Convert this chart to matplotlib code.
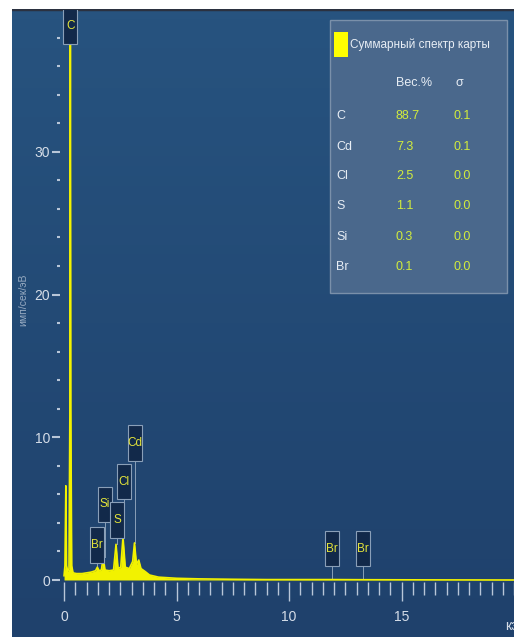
import matplotlib
matplotlib.use("Agg")
import matplotlib.pyplot as plt
import numpy as np
from matplotlib.patches import Rectangle
from matplotlib.colors import LinearSegmentedColormap

# ---------------- data ----------------
energy = [0.00, 0.04, 0.08, 0.11, 0.16, 0.22, 0.26, 0.28, 0.30, 0.34, 0.40, 0.55,
          0.80, 1.00, 1.20, 1.40, 1.48, 1.56, 1.66, 1.74, 1.82, 2.00, 2.20, 2.31,
          2.40, 2.52, 2.62, 2.72, 2.90, 3.05, 3.13, 3.22, 3.32, 3.42, 3.60, 3.80,
          4.20, 5.00, 6.00, 7.50, 9.00, 11.92, 13.29, 16.00, 20.00]
counts = [0.3, 1.0, 6.6, 1.0, 0.6, 0.8, 12.0, 41.0, 12.0, 1.0, 0.5, 0.45,
          0.45, 0.5, 0.55, 0.65, 0.9, 0.65, 0.7, 1.6, 0.7, 0.65, 0.7, 2.5,
          0.8, 0.9, 3.0, 0.9, 0.8, 1.3, 2.6, 1.1, 1.4, 0.8, 0.6, 0.35,
          0.2, 0.12, 0.08, 0.05, 0.03, 0.03, 0.02, 0.01, 0.0]

peak_names = ["C", "Br", "Si", "S", "Cl", "Cd", "Br", "Br"]
peak_energy = [0.28, 1.48, 1.80, 2.37, 2.67, 3.17, 11.92, 13.29]
label_y = [38.8, 2.45, 5.3, 4.2, 6.9, 9.6, 2.2, 2.2]
peak_top = [41.0, 0.9, 1.6, 2.5, 3.0, 2.6, 0.05, 0.05]

elements = ["C", "Cd", "Cl", "S", "Si", "Br"]
wt_pct = ["88.7", "7.3", "2.5", "1.1", "0.3", "0.1"]
sigma = ["0.1", "0.1", "0.0", "0.0", "0.0", "0.0"]

# ---------------- styling ----------------
W, H = 514, 637
YEL = "#f2f200"
TICK = "#b8c6d8"
TXT = "#d5dde8"
FONT = ["Liberation Sans", "DejaVu Sans"]

fig = plt.figure(figsize=(W / 100, H / 100), dpi=100)
fig.patch.set_facecolor("white")

def fx(px):
    return px / W

def fy(py):
    return 1 - py / H

# gradient background panel
bg = fig.add_axes([fx(12), 0, 1 - fx(12), fy(9)])
bg.set_zorder(-10)
bg.axis("off")
cmap = LinearSegmentedColormap.from_list("bg", ["#1f416c", "#27537f"])
bg.imshow(np.linspace(0, 1, 64).reshape(-1, 1), cmap=cmap, aspect="auto",
          origin="lower", extent=[0, 1, 0, 1])
bg.set_xlim(0, 1)
bg.set_ylim(0, 1)
bg.axhline(1, color="#2b3140", linewidth=2.5)

ax = fig.add_axes([fx(60), fy(582), fx(514) - fx(60), fy(10) - fy(582)])
ax.set_zorder(1)
ax.set_facecolor("none")
ax.set_xlim(-0.18, 20)
ax.set_ylim(-0.14, 39.94)
for s in ax.spines.values():
    s.set_visible(False)

ax.fill_between(energy, counts, 0, color=YEL, linewidth=0, zorder=2)
ax.plot(energy, counts, color=YEL, linewidth=1.2, zorder=3)

ax.set_xticks([0, 5, 10, 15])
ax.set_xticks([v * 0.5 for v in range(0, 41)], minor=True)
ax.set_yticks([0, 10, 20, 30])
ax.set_yticks(list(range(0, 40, 2)), minor=True)
ax.tick_params(axis="x", which="major", length=14, width=1.0, color=TICK,
               labelcolor=TXT, labelsize=10, pad=6)
ax.tick_params(axis="x", which="minor", length=9, width=1.0, color=TICK)
ax.tick_params(axis="y", which="major", length=6, width=1.5, color=TICK,
               labelcolor=TXT, labelsize=10, pad=1)
ax.tick_params(axis="y", which="minor", length=2.5, width=1.5, color=TICK)
for lab in ax.get_xticklabels() + ax.get_yticklabels():
    lab.set_family(FONT)

fig.text(fx(23), fy(300), "имп/сек/эВ", rotation=90,
         ha="center", va="center", color="#98abc2", fontsize=7.5, family=FONT)
fig.text(fx(505), fy(626), "кэВ", color=TXT, fontsize=10, family=FONT,
         ha="left", va="center")

# peak labels
bw, bh = 0.62, 2.5
for name, e, ly, top in zip(peak_names, peak_energy, label_y, peak_top):
    ax.add_patch(Rectangle((e - bw / 2, ly - bh / 2), bw, bh, facecolor="#12294a",
                           edgecolor="#8a9fb8", linewidth=0.8, zorder=4))
    if name != "C":
        ax.plot([e, e], [top, ly - bh / 2], color="#8a9fb8", linewidth=0.7, zorder=2.5)
    ax.text(e, ly, name, ha="center", va="center", color="#e4e43a", fontsize=8.5,
            family=FONT, zorder=5)

# results panel
fig.patches.append(Rectangle((fx(330), fy(293)), fx(507) - fx(330), fy(20) - fy(293),
                             transform=fig.transFigure, facecolor="#4a688c",
                             edgecolor="#7a90aa", linewidth=1.0, zorder=5))
fig.patches.append(Rectangle((fx(334), fy(57)), fx(14), fy(32) - fy(57),
                             transform=fig.transFigure, facecolor="#ffff00",
                             edgecolor="none", zorder=6))
fig.text(fx(350), fy(45), "Суммарный спектр карты", color="#e8eef5", fontsize=8.5,
         family=FONT, va="center", ha="left", zorder=7)
fig.text(fx(396), fy(83), "Вес.%", color="#e8eef5", fontsize=9, family=FONT,
         va="center", ha="left", zorder=7)
fig.text(fx(455), fy(83), "σ", color="#e8eef5", fontsize=9, family=FONT,
         va="center", ha="left", zorder=7)
row_y = [116, 147, 176, 206, 237, 267]
for el, w, s, ry in zip(elements, wt_pct, sigma, row_y):
    fig.text(fx(336), fy(ry), el, color="#e8eef5", fontsize=9, family=FONT,
             va="center", ha="left", zorder=7)
    fig.text(fx(396), fy(ry), w, color="#d2ec3c", fontsize=9, family=FONT,
             va="center", ha="left", zorder=7)
    fig.text(fx(453), fy(ry), s, color="#d2ec3c", fontsize=9, family=FONT,
             va="center", ha="left", zorder=7)

fig.savefig("out.png", dpi=100, facecolor=fig.get_facecolor())
